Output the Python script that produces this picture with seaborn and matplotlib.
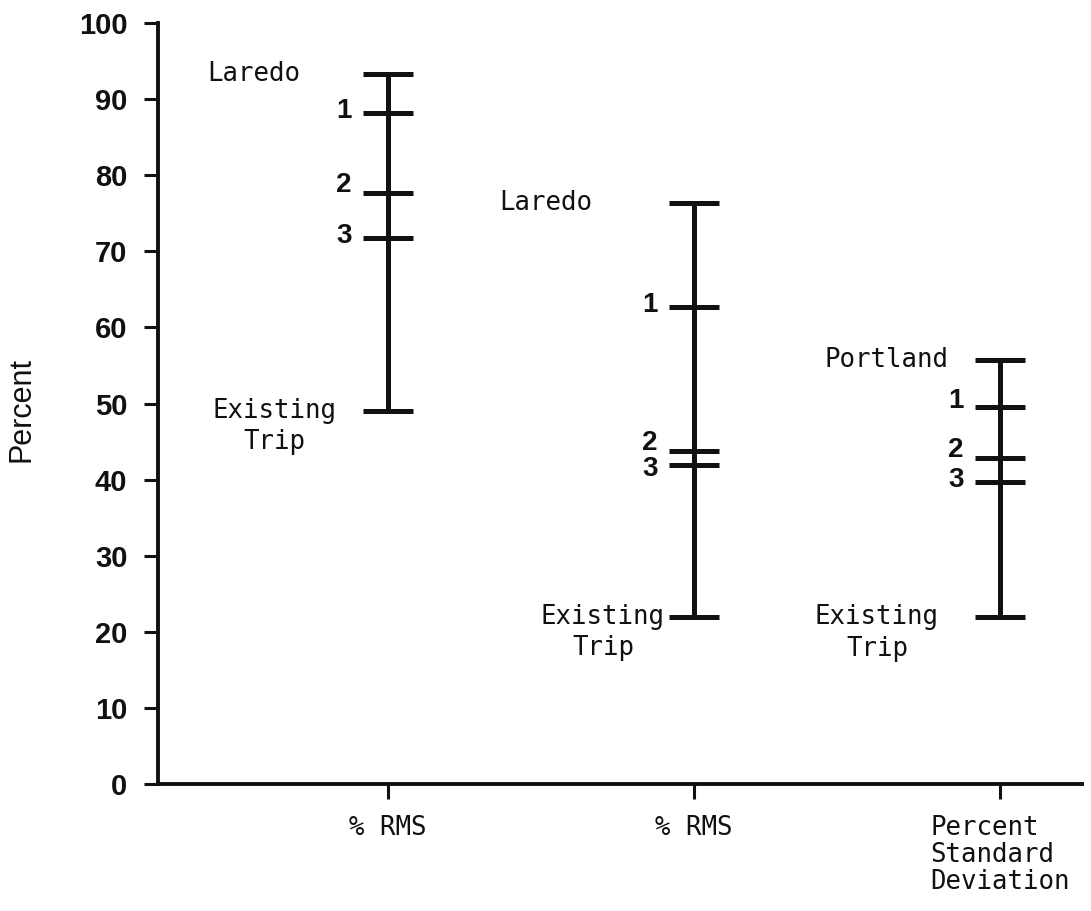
import matplotlib
matplotlib.use("Agg")
import matplotlib.pyplot as plt
import numpy as np
import pandas as pd
import seaborn as sns

# ---- data -------------------------------------------------------------
measures = ["% RMS", "% RMS", "Percent\nStandard\nDeviation"]
upper_sites = ["Laredo", "Laredo", "Portland"]
upper_values = [93.3, 76.3, 55.7]
existing_trip = [49.0, 22.0, 21.9]
level_1 = [88.2, 62.7, 49.6]
level_2 = [77.6, 43.7, 42.8]
level_3 = [71.7, 41.9, 39.7]
level_names = ["1", "2", "3"]
y_ticks = [0, 10, 20, 30, 40, 50, 60, 70, 80, 90, 100]

# ---- style ------------------------------------------------------------
sns.set_theme(style="ticks")
INK = "#111111"
MONO = "DejaVu Sans Mono"
SANS = "Liberation Sans"
plt.rcParams.update({
    "font.family": [SANS, "DejaVu Sans"],
    "axes.edgecolor": INK,
    "axes.linewidth": 2.8,
    "xtick.color": INK,
    "ytick.color": INK,
    "xtick.major.width": 2.2,
    "ytick.major.width": 2.2,
    "xtick.major.size": 11,
    "ytick.major.size": 10,
    "xtick.major.pad": 11,
    "ytick.major.pad": 12,
})

fig = plt.figure(figsize=(10.91, 9.11), dpi=100)
ax = fig.add_axes([158 / 1091, 1 - 784 / 911, (1082 - 158) / 1091, (784 - 23) / 911])

pos = np.arange(len(measures))

# vertical spans from the existing trip value up to the site value
span = pd.DataFrame({
    "pos": np.repeat(pos, 2),
    "value": np.ravel(np.column_stack([existing_trip, upper_values])),
    "col": np.repeat(pos, 2),
})
sns.lineplot(data=span, x="pos", y="value", units="col", estimator=None,
             sort=False, color=INK, linewidth=3.6, legend=False, ax=ax)

# horizontal cross marks at every level
marks = pd.DataFrame({
    "pos": np.tile(pos, 5),
    "value": np.concatenate([upper_values, level_1, level_2, level_3, existing_trip]),
})
sns.scatterplot(data=marks, x="pos", y="value", marker="_", s=1250,
                linewidth=3.6, color=INK, legend=False, ax=ax)

# numbered level labels (small vertical nudges keep 2 and 3 apart)
nudge = {(0, 1): 6, (0, 2): 2, (1, 1): 6, (1, 2): -3, (2, 0): 4, (2, 1): 6, (2, 2): 1.5}
for i in pos:
    for k, vals in enumerate([level_1, level_2, level_3]):
        ax.annotate(level_names[k], xy=(i, vals[i]), xytext=(-26, nudge.get((i, k), 1)),
                    textcoords="offset points", ha="right", va="center",
                    fontsize=20, fontweight="bold", fontfamily=SANS, color=INK)

# site names beside the upper marks
site_dx = [-63, -73, -37]
for i in pos:
    ax.annotate(upper_sites[i], xy=(i, upper_values[i]), xytext=(site_dx[i], 0),
                textcoords="offset points", ha="right", va="center",
                fontsize=18.5, fontfamily=MONO, color=INK)

# "Existing Trip" beside the lower marks
trip_dx = [-37, -21, -44]
word_w = 8 * 0.602 * 18.5
for i in pos:
    ax.annotate("Existing", xy=(i, existing_trip[i]), xytext=(trip_dx[i], 0),
                textcoords="offset points", ha="right", va="center",
                fontsize=18.5, fontfamily=MONO, color=INK)
    ax.annotate("Trip", xy=(i, existing_trip[i]), xytext=(trip_dx[i] - word_w / 2, -22.5),
                textcoords="offset points", ha="center", va="center",
                fontsize=18.5, fontfamily=MONO, color=INK)

# axes
ax.set_xlim(-0.752, 2.268)
ax.set_ylim(0, 100)
ax.set_yticks(y_ticks)
ax.set_yticklabels([str(t) for t in y_ticks], fontsize=21, fontweight="bold", fontfamily=SANS)
ax.set_xticks(pos)
ax.set_xticklabels(measures, fontsize=18.5, fontfamily=MONO)
for lab in ax.get_xticklabels():
    lab.set_multialignment("left")
    lab.set_linespacing(1.05)
ax.set_xlabel("")
ax.set_ylabel("")
sns.despine(ax=ax)

fig.text(22 / 1091, 1 - 410 / 911, "Percent", rotation=90, ha="center", va="center",
         fontsize=22, fontfamily=SANS, color=INK)

fig.savefig("out.png", dpi=100, facecolor="white")
